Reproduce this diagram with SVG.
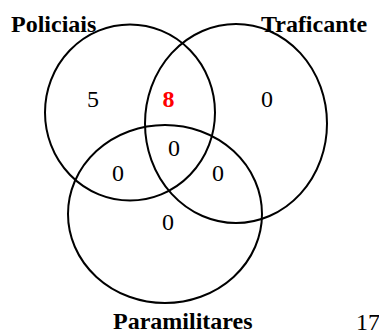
<svg xmlns="http://www.w3.org/2000/svg" width="379" height="334" viewBox="0 0 379 334">
<style>
.c{fill:none;stroke:#000;stroke-width:2}
.t{font-family:"Liberation Serif","Times New Roman",serif;font-size:24px;fill:#000}
.b{font-weight:bold}
.n{text-anchor:middle}
</style>
<rect width="379" height="334" fill="#fff"/>
<g id="connectors"></g>
<g id="policiais">
<ellipse class="c" cx="130" cy="112.5" rx="85" ry="88"/>
<text class="t b" x="11" y="32">Policiais</text>
</g>
<g id="traficante">
<ellipse class="c" cx="236" cy="123.5" rx="91" ry="99.5"/>
<text class="t b" x="261" y="32">Traficante</text>
</g>
<g id="paramilitares">
<ellipse class="c" cx="165" cy="214" rx="97" ry="89"/>
<text class="t b" x="113" y="329">Paramilitares</text>
</g>
<g id="counts">
<text class="t n" x="93" y="107">5</text>
<text class="t n b" x="168.5" y="107" style="fill:#f00">8</text>
<text class="t n" x="267" y="107">0</text>
<text class="t n" x="174" y="156">0</text>
<text class="t n" x="118" y="181">0</text>
<text class="t n" x="218" y="181">0</text>
<text class="t n" x="168" y="230">0</text>
<text class="t" x="356" y="330">17</text>
</g>
</svg>
